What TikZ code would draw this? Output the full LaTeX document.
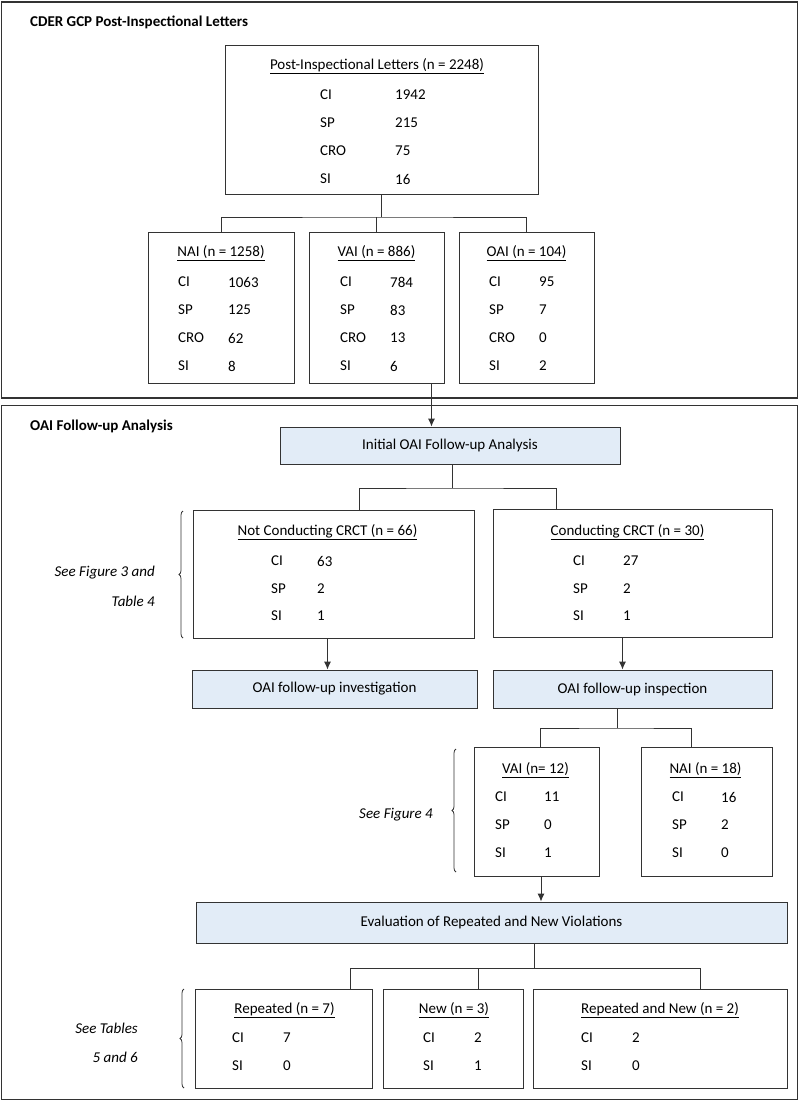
\documentclass[tikz,border=0pt]{standalone}
\usepackage{fontspec}
\setmainfont{Carlito}
\usepackage{tikz}
\usetikzlibrary{positioning, arrows.meta, decorations.pathreplacing}
\definecolor{colorBox}{HTML}{E2ECF7}
\definecolor{colorLine}{HTML}{333333}

\tikzset{
    box/.style={draw=colorLine, line width=0.9pt, inner sep=0pt},
    stage/.style={box, fill=colorBox},
    frame/.style={draw=colorLine, line width=1.2pt},
    txt/.style={inner sep=0pt, anchor=west, font=\fontsize{15}{18}\selectfont},
    head/.style={inner sep=0pt, font=\fontsize{15}{18}\selectfont},
    title/.style={inner sep=0pt, anchor=west, font=\fontsize{15}{18}\selectfont\bfseries},
    note/.style={inner sep=0pt, anchor=east, font=\fontsize{15}{18}\selectfont\itshape},
    link/.style={draw=colorLine, line width=0.9pt},
    arr/.style={link, -{Latex[length=8pt,width=7pt]}},
    bracket/.style={draw=colorLine, line width=0.8pt, decorate, decoration={brace, amplitude=4pt}}
}

\begin{document}
\begin{tikzpicture}[x=1pt, y=-1pt]
        \useasboundingbox (0,0) rectangle (799,1102);
        % frames
        \node[frame, minimum width=796, minimum height=396, inner sep=0pt] (frameA) at (399.5,200) {};
        \node[frame, minimum width=796, minimum height=694, inner sep=0pt] (frameB) at (399.5,752.5) {};
        \node[title] (titleA) at (30,22) {CDER GCP Post-Inspectional Letters};
        \node[title] (titleB) at (30,426) {OAI Follow-up Analysis};

        % post-inspectional letters
        \node[box, minimum width=313, minimum height=149] (top) at (381.5,119.5) {};
        \node[head] (topH) at (377,66) {\underline{Post-Inspectional Letters (n = 2248)}};
        \node[txt] at (320,95) {CI};  \node[txt] at (395,95) {1942};
        \node[txt] at (320,123) {SP}; \node[txt] at (395,123) {215};
        \node[txt] at (320,151) {CRO}; \node[txt] at (395,151) {75};
        \node[txt] at (320,179) {SI}; \node[txt] at (395,179) {16};

        % classification
        \node[box, minimum width=146, minimum height=151] (nai) at (221,307.5) {};
        \node[box, minimum width=135, minimum height=151] (vai) at (376.5,307.5) {};
        \node[box, minimum width=135, minimum height=151] (oai) at (526.5,307.5) {};
        \node[head] at (221,253) {\underline{NAI (n = 1258)}};
        \node[head] at (376.5,253) {\underline{VAI (n = 886)}};
        \node[head] at (526.5,253) {\underline{OAI (n = 104)}};
        \foreach \lab/\a/\b/\c [count=\i from 0] in {CI/1063/784/95, SP/125/83/7, CRO/62/13/0, SI/8/6/2} {
            \node[txt] at (178,282+28*\i) {\lab}; \node[txt] at (228,282+28*\i) {\a};
            \node[txt] at (340,282+28*\i) {\lab}; \node[txt] at (390,282+28*\i) {\b};
            \node[txt] at (489,282+28*\i) {\lab}; \node[txt] at (539,282+28*\i) {\c};
        }
        \coordinate (j1) at (381.5,217);
        \draw[link] (top.south) -- (j1);
        \draw[link] (nai.north) |- (j1) -| (oai.north);
        \draw[link] (vai.north) -- (vai.north |- j1);

        % follow-up
        \node[stage, minimum width=340, minimum height=37] (init) at (450,445.5) {};
        \node[head] at (init) {Initial OAI Follow-up Analysis};
        \draw[arr] ([xshift=55pt]vai.south) -- ([xshift=55pt]vai.south |- init.north);

        \node[box, minimum width=281, minimum height=128] (notc) at (333.5,574) {};
        \node[box, minimum width=279, minimum height=128] (conc) at (632.5,573) {};
        \node[head] at (327.5,532) {\underline{Not Conducting CRCT (n = 66)}};
        \node[head] at (627.5,532) {\underline{Conducting CRCT (n = 30)}};
        \foreach \lab/\a/\b [count=\i from 0] in {CI/63/27, SP/2/2, SI/1/1} {
            \node[txt] at (271,561+27.5*\i) {\lab}; \node[txt] at (317,561+27.5*\i) {\a};
            \node[txt] at (573,561+27.5*\i) {\lab}; \node[txt] at (623,561+27.5*\i) {\b};
        }
        \coordinate (j2) at (452,488);
        \draw[link] (init.south -| j2) -- (j2);
        \draw[link] ([xshift=26pt]notc.north) |- (j2) -| ([xshift=-76pt]conc.north);
        \draw[bracket] (183,638) -- (183,511);
        \node[note] at (155,573) {See Figure 3 and};
        \node[note] at (155,601) {Table 4};

        \node[stage, minimum width=285, minimum height=38] (invest) at (334.5,689) {};
        \node[stage, minimum width=279, minimum height=38] (inspect) at (632.5,689) {};
        \node[head] at (invest) {OAI follow-up investigation};
        \node[head] at (inspect) {OAI follow-up inspection};
        \draw[arr] ([xshift=-6pt]notc.south) -- ([xshift=-6pt]notc.south |- invest.north);
        \draw[arr] ([xshift=-10pt]conc.south) -- ([xshift=-10pt]conc.south |- inspect.north);

        % follow-up inspection outcome
        \node[box, minimum width=125, minimum height=129] (vaiB) at (536.5,811.5) {};
        \node[box, minimum width=131, minimum height=129] (naiB) at (706.5,811.5) {};
        \node[head] at (535.5,770) {\underline{VAI (n= 12)}};
        \node[head] at (705.5,770) {\underline{NAI (n = 18)}};
        \foreach \lab/\a/\b [count=\i from 0] in {CI/11/16, SP/0/2, SI/1/0} {
            \node[txt] at (495,797+28*\i) {\lab}; \node[txt] at (544,797+28*\i) {\a};
            \node[txt] at (672,797+28*\i) {\lab}; \node[txt] at (721,797+28*\i) {\b};
        }
        \coordinate (j3) at (617,728);
        \draw[link] (inspect.south -| j3) -- (j3);
        \draw[link] ([xshift=3.5pt]vaiB.north) |- (j3) -| ([xshift=-15.5pt]naiB.north);
        \draw[bracket] (456,872) -- (456,749);
        \node[note] at (433,815) {See Figure 4};

        % repeated and new
        \node[stage, minimum width=591, minimum height=41] (eval) at (491.5,922.5) {};
        \node[head] at (eval) {Evaluation of Repeated and New Violations};
        \draw[arr] ([xshift=4.5pt]vaiB.south) -- ([xshift=4.5pt]vaiB.south |- eval.north);

        \node[box, minimum width=177, minimum height=99] (rep) at (283.5,1038.5) {};
        \node[box, minimum width=140, minimum height=99] (new) at (453,1038.5) {};
        \node[box, minimum width=254, minimum height=99] (both) at (660,1038.5) {};
        \node[head] at (284.5,1010) {\underline{Repeated (n = 7)}};
        \node[head] at (454,1010) {\underline{New (n = 3)}};
        \node[head] at (660,1010) {\underline{Repeated and New (n = 2)}};
        \foreach \lab/\a/\b/\c [count=\i from 0] in {CI/7/2/2, SI/0/1/0} {
            \node[txt] at (232,1038+28*\i) {\lab}; \node[txt] at (283,1038+28*\i) {\a};
            \node[txt] at (423,1038+28*\i) {\lab}; \node[txt] at (474,1038+28*\i) {\b};
            \node[txt] at (581,1038+28*\i) {\lab}; \node[txt] at (632,1038+28*\i) {\c};
        }
        \coordinate (j4) at (534,968);
        \draw[link] (eval.south -| j4) -- (j4);
        \draw[link] ([xshift=66.5pt]rep.north) |- (j4) -| ([xshift=40pt]both.north);
        \draw[link] ([xshift=25pt]new.north) -- ([xshift=25pt]new.north |- j4);
        \draw[bracket] (184,1088) -- (184,989);
        \node[note] at (138,1028) {See Tables};
        \node[note] at (138,1057) {5 and 6};
    \end{tikzpicture}
\end{document}
